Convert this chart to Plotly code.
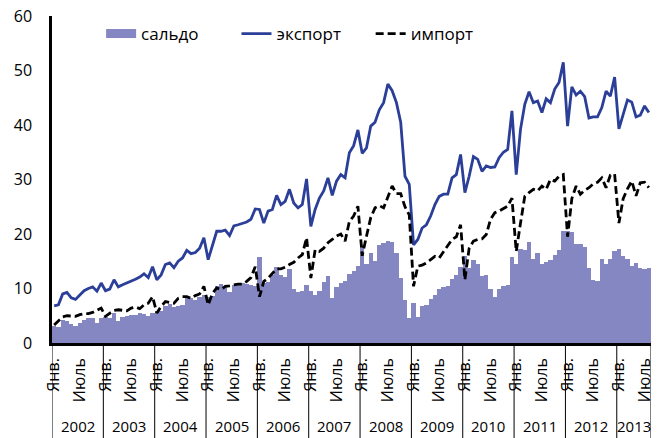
import plotly.graph_objects as go

years = [2002, 2003, 2004, 2005, 2006, 2007, 2008, 2009, 2010, 2011, 2012, 2013]
month_labels = ["Янв.", "Июль"]

saldo = [
    3.2, 2.9, 4.2, 4.0, 3.5, 3.2, 3.6, 4.3, 4.5, 4.6, 3.6, 4.6,
    4.8, 4.6, 5.5, 4.0, 4.8, 5.0, 5.2, 5.1, 5.5, 5.3, 5.0, 5.5,
    5.8, 5.9, 6.8, 7.2, 6.6, 6.8, 7.0, 8.3, 8.2, 7.9, 8.4, 8.8,
    8.4, 8.6, 10.5, 10.8, 10.2, 9.4, 10.7, 11.0, 11.0, 10.8, 10.6, 10.4,
    15.8, 11.0, 11.2, 12.5, 14.0, 12.5, 12.2, 13.6, 10.0, 9.3, 9.6, 10.7,
    9.6, 8.8, 9.6, 11.2, 12.3, 8.3, 10.3, 11.0, 11.4, 12.6, 13.3, 14.1,
    18.0, 14.5, 16.5, 15.0, 18.0, 18.3, 18.7, 18.5, 16.5, 12.0, 7.8, 4.6,
    7.4, 4.8, 6.7, 6.9, 8.1, 8.8, 10.0, 10.2, 10.5, 11.8, 12.5, 14.0,
    16.0, 13.8, 15.2, 14.5, 12.3, 12.4, 10.0, 8.4, 10.0, 10.5, 10.6, 15.8,
    14.5, 17.3, 17.0, 18.6, 15.5, 16.5, 14.5, 14.8, 15.2, 16.2, 17.1, 20.5,
    20.5, 20.3, 18.2, 18.2, 17.6, 13.8, 11.6, 11.3, 15.4, 14.5, 15.4, 16.9,
    17.2, 15.9, 15.5, 14.2, 14.6, 13.8, 13.5, 13.7,
]

export = [
    6.8, 7.0, 9.0, 9.3, 8.3, 8.0, 8.8, 9.6, 10.0, 10.3, 9.5, 11.0,
    9.6, 9.9, 11.6, 10.3, 10.7, 11.0, 11.4, 11.7, 12.1, 12.7, 12.0, 14.0,
    11.6, 12.5, 14.4, 14.7, 13.8, 15.0, 15.6, 17.0, 16.4, 16.6, 17.4, 19.3,
    15.3, 17.7, 20.5, 20.5, 20.7, 19.7, 21.5, 21.7, 21.9, 22.2, 22.7, 24.6,
    24.5, 22.0, 24.2, 24.5, 27.1, 25.4, 26.0, 28.2, 25.7, 24.8, 25.4, 30.1,
    21.4, 24.5, 26.6, 27.9, 30.3, 27.1, 29.7, 30.9, 30.3, 34.9, 36.2, 39.1,
    34.8, 35.8, 39.8, 40.5, 42.8, 44.1, 47.5, 46.3, 44.1, 40.5, 30.6, 29.1,
    18.0, 19.0, 21.1, 21.7, 23.3, 25.4, 26.9, 27.3, 27.3, 30.3, 30.9, 34.6,
    27.6, 30.6, 34.2, 33.7, 31.5, 32.5, 32.2, 32.3, 34.0, 35.0, 35.5, 42.6,
    30.9, 39.2, 43.8, 46.1, 44.1, 44.4, 42.3, 44.8, 44.1, 46.6, 47.8, 51.5,
    39.8, 47.0, 45.5, 46.2, 45.2, 41.3, 41.5, 41.5, 43.2, 46.2, 45.3, 48.8,
    39.3, 42.0, 44.6, 44.2, 41.5, 41.8, 43.5, 42.3,
]

imports = [
    3.3, 4.0, 4.8, 5.0, 4.9, 4.9, 5.2, 5.4, 5.4, 5.6, 6.0, 6.4,
    4.9, 5.5, 6.0, 6.1, 6.0, 5.9, 6.4, 6.6, 6.3, 7.0, 7.3, 8.5,
    5.5, 6.7, 7.6, 7.4, 7.3, 8.2, 8.5, 8.5, 8.2, 8.7, 9.0, 10.4,
    7.0, 9.1, 10.1, 9.8, 10.4, 10.5, 10.7, 10.8, 10.8, 11.3, 12.0, 14.0,
    8.5, 11.3, 11.9, 12.8, 13.6, 13.6, 13.9, 14.4, 14.8, 15.6, 16.2, 19.3,
    11.9, 17.1, 16.8, 17.4, 18.4, 19.0, 19.6, 20.0, 18.7, 22.3, 23.3, 25.1,
    16.0, 19.6, 23.0, 24.8, 25.2, 24.8, 26.9, 28.8, 27.4, 27.4, 25.0, 23.5,
    10.4, 14.1, 14.3, 14.7, 15.3, 15.9, 15.6, 16.8, 18.0, 19.0, 19.5, 21.7,
    11.6, 17.4, 18.7, 19.0, 19.1, 19.9, 22.7, 23.9, 24.2, 24.6, 25.1, 26.6,
    16.8, 22.0, 26.9, 27.6, 28.2, 27.9, 28.8, 28.2, 30.0, 29.7, 30.6, 30.9,
    19.5, 26.5, 28.8, 27.3, 28.0, 28.5, 29.2, 29.5, 30.3, 28.5, 30.8, 31.0,
    22.0, 26.5, 28.3, 29.7, 27.0, 29.4, 29.5, 28.5,
]

n = len(export)
x = list(range(n))

BAR_COLOR = "#8487C1"
EXP_COLOR = "#2B3F98"
FONT = "Open Sans"

fig = go.Figure()
fig.add_trace(go.Bar(x=x, y=saldo, marker=dict(color=BAR_COLOR, line=dict(width=0)),
                     name="сальдо", showlegend=False))
fig.add_trace(go.Scatter(x=x, y=export, mode="lines", name="экспорт",
                         line=dict(color=EXP_COLOR, width=2.8), legend="legend2"))
fig.add_trace(go.Scatter(x=x, y=imports, mode="lines", name="импорт",
                         line=dict(color="black", width=2.8, dash="8px,4px"), legend="legend3"))
# legend proxy for the bar series (wide swatch like the original)
fig.add_trace(go.Scatter(x=[None], y=[None], mode="lines", name="сальдо",
                         line=dict(color=BAR_COLOR, width=9), legend="legend"))

tickvals = []
ticktext = []
for i in range(0, n, 6):
    tickvals.append(i)
    ticktext.append(month_labels[(i // 6) % 2])

shapes = []
annotations = []
for k, yr in enumerate(years):
    start = k * 12 - 0.5
    end = min(start + 12, n - 0.5)
    shapes.append(dict(type="line", xref="x", yref="paper", x0=start, x1=start,
                       y0=0, y1=-0.30, line=dict(color="black", width=1)))
    annotations.append(dict(x=(start + end) / 2, y=-0.253, xref="x", yref="paper",
                            text=str(yr), showarrow=False, yanchor="middle",
                            font=dict(family=FONT, size=15, color="black")))
shapes.append(dict(type="line", xref="x", yref="paper", x0=n - 0.5, x1=n - 0.5,
                   y0=0, y1=-0.30, line=dict(color="black", width=1)))

legend_common = dict(orientation="h", yanchor="middle", xanchor="left",
                     font=dict(family=FONT, size=17, color="black"),
                     bgcolor="rgba(0,0,0,0)", borderwidth=0)

fig.update_layout(
    width=662, height=438,
    margin=dict(l=52, r=11, t=16, b=95),
    paper_bgcolor="white", plot_bgcolor="white",
    bargap=0,
    font=dict(family=FONT, color="black"),
    legend=dict(x=0.082, y=0.945, **legend_common),
    legend2=dict(x=0.308, y=0.945, **legend_common),
    legend3=dict(x=0.532, y=0.945, **legend_common),
    xaxis=dict(range=[-0.5, n - 0.5], tickvals=tickvals, ticktext=ticktext,
               tickangle=-90, ticks="", showgrid=False, zeroline=False,
               showline=True, linecolor="black", linewidth=2.5, automargin=False,
               tickfont=dict(family=FONT, size=16, color="black"), ticklabelstandoff=6),
    yaxis=dict(range=[0, 60], tickvals=[0, 10, 20, 30, 40, 50, 60],
               ticks="", showgrid=False, zeroline=False, automargin=False,
               showline=True, linecolor="black", linewidth=2.5,
               tickfont=dict(family=FONT, size=16, color="black"), ticklabelstandoff=14),
    shapes=shapes,
    annotations=annotations,
)

fig.write_html("out.html", config={"displayModeBar": False},
               post_script="document.body.style.margin='0';document.body.style.padding='0';")
